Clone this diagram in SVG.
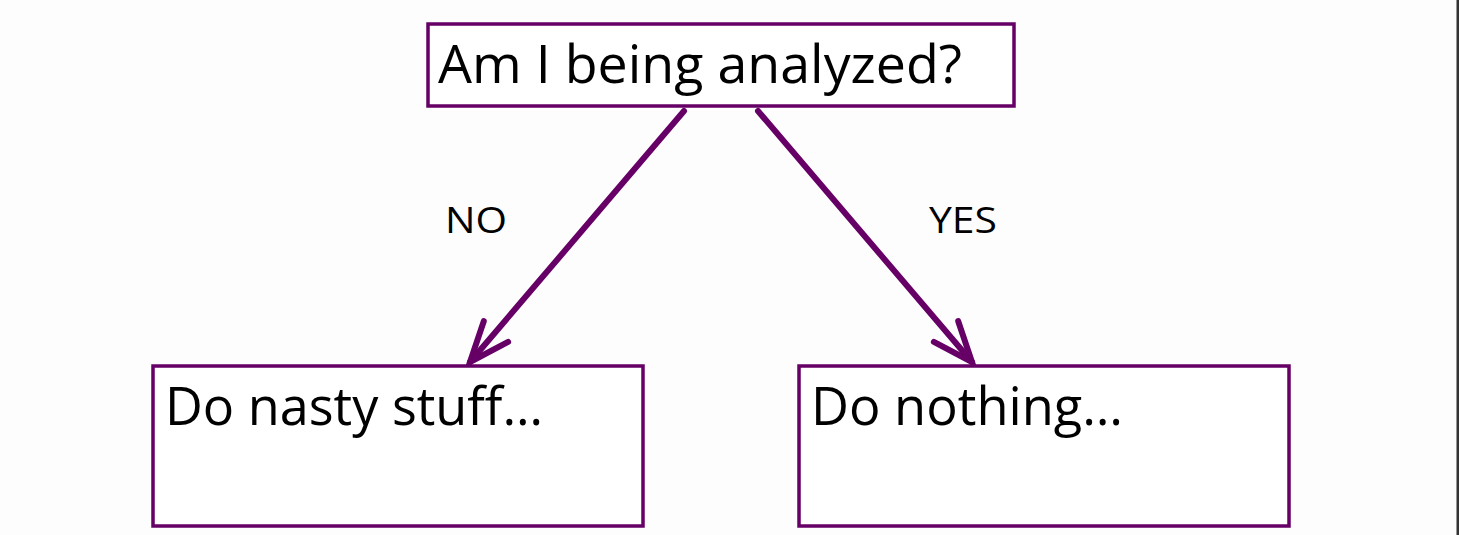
<svg xmlns="http://www.w3.org/2000/svg" width="1459" height="535" viewBox="0 0 1459 535">
<style>
.box{fill:#ffffff;stroke:#660066;stroke-width:3.5}
.big{font-family:"Open Sans","Noto Sans",sans-serif;font-size:53px;fill:#000}
.lbl{font-family:"Open Sans","Noto Sans",sans-serif;font-size:37px;fill:#000}
.conn{stroke:#660066;stroke-width:6;fill:none;stroke-linecap:round}
</style>
<defs>
<marker id="ah" markerUnits="userSpaceOnUse" markerWidth="60" markerHeight="60" viewBox="-50 -30 60 60" refX="0" refY="0" orient="auto">
<path d="M -40 -16 L 0 0 L -40 16" fill="none" stroke="#660066" stroke-width="6" stroke-linecap="round" stroke-linejoin="miter"/>
</marker>
</defs>
<rect x="0" y="0" width="1459" height="535" fill="#fdfdfd"/>
<rect x="1456.5" y="0" width="2.5" height="535" fill="#333333"/>
<g id="connectors">
<line class="conn" x1="684" y1="111" x2="470" y2="362" marker-end="url(#ah)"/>
<line class="conn" x1="758" y1="111" x2="972" y2="362" marker-end="url(#ah)"/>
<text class="lbl" x="445" y="233" textLength="62" lengthAdjust="spacingAndGlyphs">NO</text>
<text class="lbl" x="929" y="233" textLength="68" lengthAdjust="spacingAndGlyphs">YES</text>
</g>
<g id="q">
<rect class="box" x="428" y="24" width="586" height="82"/>
<text class="big" x="438" y="83" textLength="524" lengthAdjust="spacingAndGlyphs">Am I being analyzed?</text>
</g>
<g id="nasty">
<rect class="box" x="153" y="366" width="490" height="160"/>
<text class="big" x="165" y="425" textLength="378" lengthAdjust="spacingAndGlyphs">Do nasty stuff…</text>
</g>
<g id="nothing">
<rect class="box" x="799" y="366" width="490" height="160"/>
<text class="big" x="811" y="425" textLength="312" lengthAdjust="spacingAndGlyphs">Do nothing…</text>
</g>
</svg>
